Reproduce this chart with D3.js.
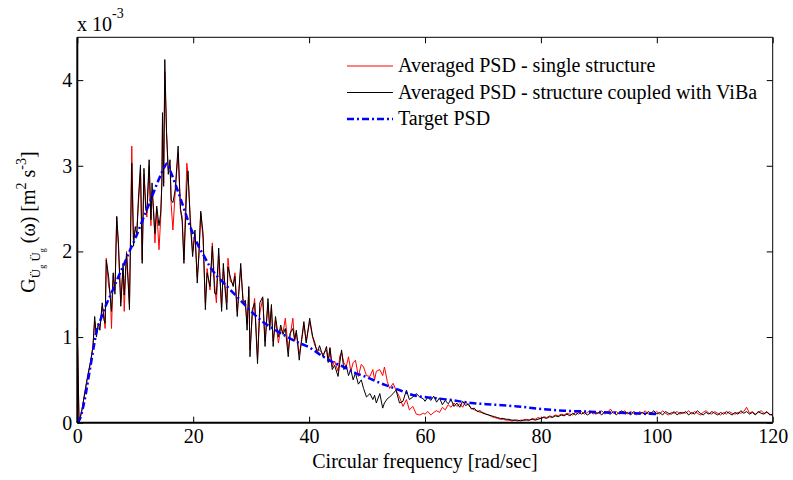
<!DOCTYPE html>
<html>
<head>
<meta charset="utf-8">
<script src="https://cdn.jsdelivr.net/npm/d3@7"></script>
<style>
    body { margin: 0; background: white; }
    text { font-family: "Liberation Serif", "Times New Roman", serif; fill: black; }
</style>
</head>
<body>
<svg id="chart" width="793" height="480"></svg>
<script>

// frequency grid [rad/sec] shared by the two averaged PSD lines
const freq = [
    0, 0.3, 0.8, 1.3, 1.8, 2.3, 2.7, 3.0, 3.3, 3.6, 3.9, 4.3, 4.6, 4.8, 5.0, 5.4, 5.7, 5.9, 6.2, 6.5,
    6.8, 7.1, 7.5, 7.9, 8.1, 8.5, 8.8, 9.0, 9.4, 9.7, 10.0, 10.3, 10.5, 10.9, 11.2, 11.5, 11.8, 12.0, 12.4, 12.7,
    12.9, 13.2, 13.4, 13.7, 14.1, 14.4, 14.6, 14.7, 14.9, 15.1, 15.4, 15.7, 16.0, 16.2, 16.5, 16.9, 17.4, 17.8, 18.1, 18.4,
    18.9, 19.1, 19.5, 19.9, 20.3, 20.7, 21.0, 21.3, 21.7, 22.1, 22.4, 22.9, 23.3, 23.7, 24.0, 24.4, 24.9, 25.2, 25.5, 25.8,
    26.0, 26.4, 26.9, 27.2, 27.6, 28.2, 28.6, 29.0, 29.3, 29.6, 29.8, 30.2, 30.6, 31.1, 31.5, 32.0, 32.4, 32.9, 33.2, 33.5,
    33.8, 34.2, 34.7, 35.1, 35.5, 35.9, 36.4, 36.7, 37.2, 37.5, 37.8, 38.3, 38.7, 39.1, 39.5, 40.1, 40.6, 41.0, 41.4, 41.8,
    42.4, 43.0, 43.3, 43.6, 44.0, 44.4, 45.0, 45.3, 45.6, 46.0, 46.4, 46.8, 47.2, 47.6, 48.0, 48.5, 49.0, 49.4, 49.9, 50.5,
    51.0, 51.3, 51.6, 52.2, 52.7, 53.0, 53.5, 53.9, 54.5, 55.0, 55.6, 56.2, 56.8, 57.3, 57.9, 58.5, 59.1, 59.7,
    60, 60.5, 61, 61.5, 62, 62.5, 63, 63.5, 64, 64.5, 65, 65.5, 66, 66.5, 67, 67.5, 68, 68.5, 69, 69.5,
    70, 70.5, 71, 71.5, 72, 72.5, 73, 73.5, 74, 74.5, 75, 75.5, 76, 76.5, 77, 77.5, 78, 78.5, 79, 79.5,
    80, 80.5, 81, 81.5, 82, 82.5, 83, 83.5, 84, 84.5, 85, 85.5, 86, 86.5, 87, 87.5, 88, 88.5, 89, 89.5,
    90, 90.5, 91, 91.5, 92, 92.5, 93, 93.5, 94, 94.5, 95, 95.5, 96, 96.5, 97, 97.5, 98, 98.5, 99, 99.5,
    100, 100.5, 101, 101.5, 102, 102.5, 103, 103.5, 104, 104.5, 105, 105.5, 106, 106.5, 107, 107.5, 108, 108.5, 109, 109.5,
    110, 110.5, 111, 111.5, 112, 112.5, 113, 113.5, 114, 114.5, 115, 115.5, 116, 116.5, 117, 117.5, 118, 118.5, 119, 119.5,
    120
]

// averaged PSD, single structure (x 10^-3)
const psdSingle = [
    1.12, 0.00, 0.14, 0.36, 0.54, 0.70, 0.90, 1.18, 1.04, 1.10, 1.12, 1.36, 1.25, 1.10, 1.92, 1.60, 1.50, 1.10, 1.72, 1.55,
    2.40, 2.05, 1.40, 1.80, 1.30, 2.00, 1.65, 1.38, 3.23, 2.15, 2.25, 2.30, 2.50, 2.95, 1.90, 2.90, 2.55, 2.40, 3.00, 2.30,
    2.70, 2.45, 2.10, 2.50, 2.02, 2.40, 2.85, 3.50, 2.80, 4.10, 3.40, 2.95, 3.00, 2.55, 2.25, 2.70, 3.15, 2.50, 2.40, 1.90,
    3.03, 2.90, 2.40, 2.00, 2.20, 1.70, 1.95, 2.45, 2.15, 1.40, 1.80, 1.55, 2.10, 1.60, 1.40, 1.95, 1.35, 1.80, 1.60, 1.40,
    1.92, 1.65, 1.62, 1.75, 1.30, 1.80, 1.45, 1.38, 1.15, 1.55, 0.85, 1.25, 1.45, 0.75, 1.28, 1.45, 0.95, 1.40, 1.12, 1.35,
    0.95, 1.20, 0.93, 1.10, 1.05, 1.22, 0.85, 1.00, 1.22, 0.95, 1.05, 0.80, 0.95, 1.15, 0.95, 1.18, 1.00, 0.90, 0.85, 0.85,
    0.80, 0.85, 0.70, 0.88, 0.65, 0.72, 0.60, 0.78, 0.82, 0.70, 0.65, 0.77, 0.60, 0.70, 0.73, 0.54, 0.68, 0.65, 0.55, 0.54,
    0.62, 0.50, 0.60, 0.62, 0.55, 0.65, 0.48, 0.40, 0.46, 0.38, 0.30, 0.19, 0.27, 0.15, 0.19, 0.10, 0.09, 0.11,
    0.10, 0.13, 0.09, 0.12, 0.14, 0.12, 0.18, 0.15, 0.21, 0.18, 0.23, 0.19, 0.22, 0.18, 0.25, 0.20, 0.17, 0.15, 0.14, 0.12,
    0.12, 0.10, 0.09, 0.07, 0.06, 0.05, 0.04, 0.04, 0.03, 0.03, 0.02, 0.03, 0.02, 0.03, 0.03, 0.04, 0.03, 0.05, 0.04, 0.06,
    0.05, 0.07, 0.06, 0.08, 0.07, 0.09, 0.08, 0.10, 0.09, 0.11, 0.10, 0.09, 0.12, 0.10, 0.13, 0.10, 0.12, 0.14, 0.10, 0.12,
    0.11, 0.14, 0.10, 0.12, 0.16, 0.11, 0.13, 0.10, 0.12, 0.14, 0.10, 0.13, 0.11, 0.09, 0.13, 0.11, 0.14, 0.10, 0.12, 0.11,
    0.13, 0.10, 0.14, 0.11, 0.09, 0.12, 0.11, 0.13, 0.10, 0.12, 0.11, 0.14, 0.10, 0.13, 0.11, 0.09, 0.12, 0.14, 0.11, 0.10,
    0.13, 0.11, 0.09, 0.12, 0.10, 0.13, 0.11, 0.10, 0.12, 0.11, 0.13, 0.18, 0.11, 0.13, 0.10, 0.12, 0.14, 0.11, 0.12, 0.10,
    0.08
]

// averaged PSD, structure coupled with ViBa (x 10^-3)
const psdCoupled = [
    1.10, 0.00, 0.15, 0.35, 0.55, 0.72, 0.88, 1.24, 1.00, 1.16, 1.08, 1.40, 1.20, 1.16, 1.90, 1.71, 1.45, 1.30, 1.75, 1.50,
    2.41, 2.10, 1.36, 1.86, 1.49, 1.98, 1.60, 1.32, 3.03, 2.06, 2.29, 2.20, 2.56, 3.01, 1.86, 2.97, 2.50, 2.45, 3.07, 2.37,
    2.80, 2.40, 2.21, 2.53, 2.30, 2.45, 2.80, 3.62, 2.76, 4.24, 3.38, 2.90, 3.07, 2.60, 2.57, 2.72, 3.23, 2.49, 2.35, 1.86,
    2.76, 2.94, 2.33, 1.94, 2.25, 1.63, 2.00, 2.47, 2.21, 1.32, 1.75, 1.59, 2.06, 1.51, 1.50, 2.04, 1.30, 1.86, 1.55, 1.32,
    1.82, 1.70, 1.59, 1.71, 1.24, 1.86, 1.40, 1.43, 1.08, 1.59, 0.77, 1.32, 1.40, 0.69, 1.40, 1.47, 0.89, 1.45, 1.08, 1.38,
    0.89, 1.24, 1.00, 1.14, 1.03, 1.10, 0.77, 1.04, 1.10, 0.97, 1.08, 0.73, 0.97, 1.18, 0.93, 1.22, 1.01, 0.93, 0.81, 0.90,
    0.77, 0.89, 0.71, 0.87, 0.62, 0.67, 0.54, 0.70, 0.85, 0.62, 0.67, 0.55, 0.62, 0.50, 0.58, 0.45, 0.50, 0.40, 0.30, 0.34,
    0.27, 0.32, 0.23, 0.34, 0.17, 0.23, 0.28, 0.30, 0.34, 0.38, 0.23, 0.25, 0.38, 0.27, 0.30, 0.34, 0.30, 0.28,
    0.25, 0.30, 0.26, 0.31, 0.24, 0.29, 0.21, 0.26, 0.22, 0.27, 0.19, 0.23, 0.18, 0.25, 0.20, 0.22, 0.16, 0.17, 0.13, 0.14,
    0.11, 0.10, 0.09, 0.08, 0.07, 0.06, 0.05, 0.05, 0.04, 0.04, 0.03, 0.03, 0.03, 0.02, 0.03, 0.03, 0.03, 0.04, 0.03, 0.04,
    0.05, 0.06, 0.05, 0.07, 0.06, 0.08, 0.07, 0.09, 0.08, 0.10, 0.08, 0.11, 0.09, 0.12, 0.10, 0.12, 0.09, 0.11, 0.13, 0.10,
    0.12, 0.09, 0.13, 0.11, 0.10, 0.13, 0.09, 0.12, 0.14, 0.10, 0.12, 0.09, 0.13, 0.11, 0.10, 0.12, 0.09, 0.13, 0.11, 0.14,
    0.10, 0.12, 0.09, 0.13, 0.11, 0.10, 0.13, 0.09, 0.12, 0.11, 0.13, 0.09, 0.12, 0.10, 0.14, 0.11, 0.09, 0.12, 0.10, 0.13,
    0.11, 0.09, 0.12, 0.10, 0.13, 0.11, 0.09, 0.12, 0.10, 0.14, 0.11, 0.13, 0.10, 0.12, 0.09, 0.13, 0.11, 0.10, 0.13, 0.09,
    0.10
]

// target PSD (x 10^-3)
const targetFreq = [0, 0.5, 1, 1.5, 2, 2.5, 3, 3.3, 4, 5, 6, 7, 8, 9, 10, 11, 12, 13, 14, 15, 15.5, 16, 17, 18, 19, 20,
    21, 22, 23, 24, 25, 26, 27, 28, 29, 30, 32, 34, 36, 38, 40, 42, 44, 46, 48, 50, 52, 54, 56, 58, 60,
    64, 68, 72, 76, 80, 84, 88, 92, 96, 100]
const targetPsd = [0, 0.05, 0.18, 0.35, 0.55, 0.75, 0.95, 1.06, 1.20, 1.38, 1.53, 1.69, 1.84, 2.00, 2.15, 2.32, 2.49, 2.66, 2.83, 2.98, 3.03, 2.95, 2.77, 2.58, 2.38, 2.20,
    2.05, 1.93, 1.81, 1.72, 1.65, 1.58, 1.51, 1.44, 1.37, 1.30, 1.18, 1.09, 1.01, 0.94, 0.88, 0.79, 0.71, 0.65, 0.58, 0.53, 0.47, 0.42, 0.37, 0.32, 0.30,
    0.27, 0.23, 0.21, 0.19, 0.16, 0.14, 0.13, 0.12, 0.11, 0.10]

const xTicks = [0, 20, 40, 60, 80, 100, 120]
const yTicks = [0, 1, 2, 3, 4]
const legendLabels = ["Averaged PSD - single structure", "Averaged PSD - structure coupled with ViBa", "Target PSD"]

const margin = { top: 37.3, right: 20.3, bottom: 57.3, left: 77.3 }
const width = 793 - margin.left - margin.right
const height = 480 - margin.top - margin.bottom

const svg = d3.select("#chart")
const g = svg.append("g")
    .attr("transform", `translate(${margin.left},${margin.top})`)

const x = d3.scaleLinear().domain([0, 120]).range([0, width])
const y = d3.scaleLinear().domain([0, 4.5]).range([height, 0])

// axes, matlab style with inward ticks on all four sides
g.append("g")
    .attr("transform", `translate(0,${height})`)
    .call(d3.axisBottom(x).tickValues(xTicks).tickSizeInner(-6).tickSizeOuter(0).tickPadding(6))
    .call(a => a.select(".domain").remove())
    .selectAll("text").style("font-size", "20px")

g.append("g")
    .call(d3.axisLeft(y).tickValues(yTicks).tickFormat(d3.format("d")).tickSizeInner(-6).tickSizeOuter(0).tickPadding(5))
    .call(a => a.select(".domain").remove())
    .selectAll("text").style("font-size", "20px")

g.append("g")
    .call(d3.axisTop(x).tickValues(xTicks).tickSizeInner(-6).tickSizeOuter(0).tickFormat(""))
    .call(a => a.select(".domain").remove())

g.append("g")
    .attr("transform", `translate(${width},0)`)
    .call(d3.axisRight(y).tickValues(yTicks).tickSizeInner(-6).tickSizeOuter(0).tickFormat(""))
    .call(a => a.select(".domain").remove())

g.selectAll(".tick line").attr("stroke", "black").attr("stroke-width", 1)

const line = d3.line()
    .x(d => x(d[0]))
    .y(d => y(d[1]))

g.append("path")
    .datum(d3.zip(freq, psdSingle))
    .attr("d", line)
    .attr("fill", "none")
    .attr("stroke", "#ff0000")
    .attr("stroke-width", 1)

g.append("path")
    .datum(d3.zip(freq, psdCoupled))
    .attr("d", line)
    .attr("fill", "none")
    .attr("stroke", "black")
    .attr("stroke-width", 1)

g.append("path")
    .datum(d3.zip(targetFreq, targetPsd))
    .attr("d", line.curve(d3.curveMonotoneX))
    .attr("fill", "none")
    .attr("stroke", "#0000ff")
    .attr("stroke-width", 2.5)
    .attr("stroke-dasharray", "7,3,2,3")

// box
g.append("line").attr("x1", 0).attr("x2", width).attr("y1", 0).attr("y2", 0)
    .attr("stroke", "black").attr("stroke-width", 1)
g.append("line").attr("x1", width).attr("x2", width).attr("y1", 0).attr("y2", height)
    .attr("stroke", "black").attr("stroke-width", 1)
g.append("line").attr("x1", 0).attr("x2", width).attr("y1", height).attr("y2", height)
    .attr("stroke", "black").attr("stroke-width", 2)
g.append("line").attr("x1", 0).attr("x2", 0).attr("y1", 0).attr("y2", height)
    .attr("stroke", "black").attr("stroke-width", 2)

// exponent label
const expo = svg.append("text")
    .attr("x", 77)
    .attr("y", 31)
    .style("font-size", "20px")
expo.append("tspan").text("x 10")
expo.append("tspan").attr("dy", -13).style("font-size", "14px").text("-3")

// x label
svg.append("text")
    .attr("x", margin.left + width / 2)
    .attr("y", 468)
    .attr("text-anchor", "middle")
    .style("font-size", "20px")
    .text("Circular frequency [rad/sec]")

// y label
const yLabel = svg.append("text")
    .attr("transform", `translate(35,222) rotate(-90)`)
    .attr("text-anchor", "middle")
    .style("font-size", "20px")
yLabel.append("tspan").text("G")
yLabel.append("tspan").attr("dy", 5).style("font-size", "13px").text("Ü")
yLabel.append("tspan").attr("dy", 5).style("font-size", "8px").text("g")
yLabel.append("tspan").attr("dy", -5).style("font-size", "13px").text(" Ü")
yLabel.append("tspan").attr("dy", 5).style("font-size", "8px").text("g")
yLabel.append("tspan").attr("dy", -10).text(" (ω) [m")
yLabel.append("tspan").attr("dy", -9).style("font-size", "14px").text("2")
yLabel.append("tspan").attr("dy", 9).text(" s")
yLabel.append("tspan").attr("dy", -9).style("font-size", "14px").text("-3")
yLabel.append("tspan").attr("dy", 9).text("]")

// legend, no box
const legendColors = ["#ff0000", "black", "#0000ff"]
const legend = svg.append("g")
    .selectAll("g")
    .data(legendLabels)
    .join("g")
    .attr("transform", (d, i) => `translate(347,${66 + i * 26.5})`)

legend.append("line")
    .attr("x1", 0)
    .attr("x2", 46)
    .attr("stroke", (d, i) => legendColors[i])
    .attr("stroke-width", (d, i) => i === 2 ? 2.5 : 1)
    .attr("stroke-dasharray", (d, i) => i === 2 ? "7,3,2,3" : null)

legend.append("text")
    .attr("x", 51)
    .attr("dy", "0.32em")
    .style("font-size", "20px")
    .text(d => d)

</script>
</body>
</html>
